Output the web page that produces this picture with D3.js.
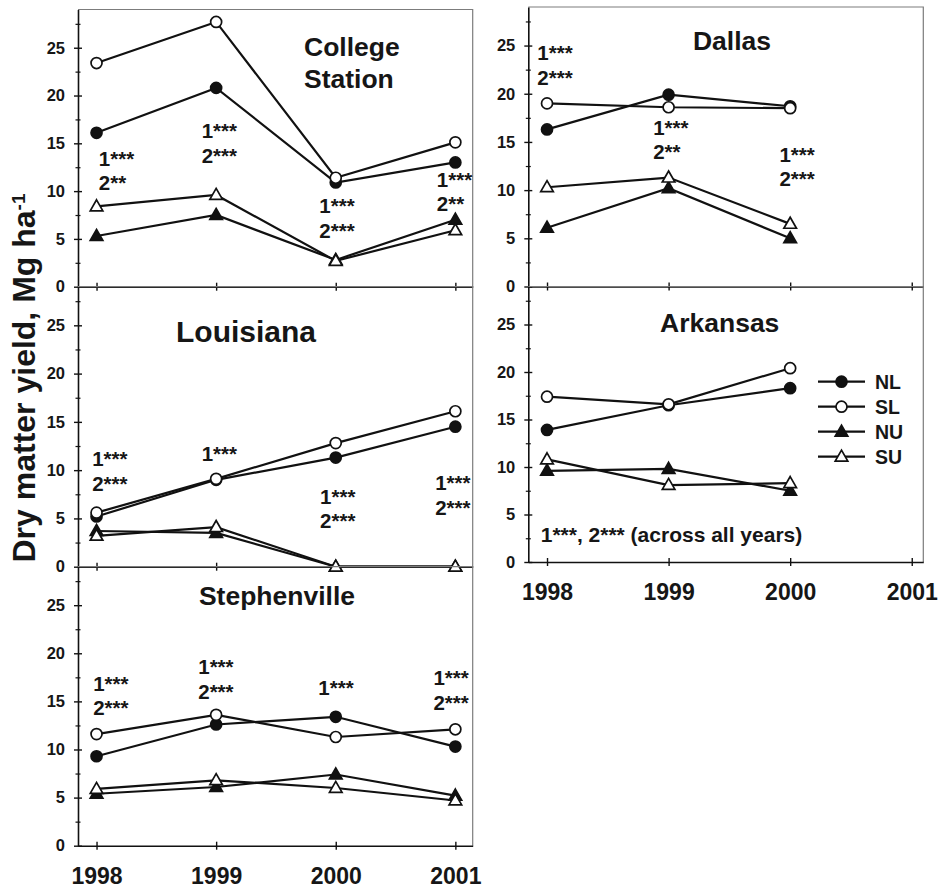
<!DOCTYPE html>
<html>
<head>
<meta charset="utf-8">
<script src="https://cdn.jsdelivr.net/npm/d3@7"></script>
<style>
  body { margin: 0; background: #fff; }
  svg text { font-family: "Liberation Sans", Arial, Helvetica, sans-serif; font-weight: bold; fill: #161616; }
</style>
</head>
<body>
<svg id="chart" width="938" height="890"></svg>
<script>
// ---- data ----
const years = [1998, 1999, 2000, 2001];
const seriesNames = ["NL", "SL", "NU", "SU"];

// rows follow seriesNames: NL, SL, NU, SU  (Mg ha-1)
const collegeStation = [
  [16.1, 20.8, 10.9, 13.0],
  [23.4, 27.7, 11.4, 15.1],
  [5.3, 7.5, 2.8, 7.0],
  [8.4, 9.6, 2.7, 5.9]
];
const dallas = [
  [16.3, 19.9, 18.7],
  [19.0, 18.6, 18.5],
  [6.1, 10.2, 5.0],
  [10.3, 11.3, 6.5]
];
const louisiana = [
  [5.2, 9.0, 11.3, 14.5],
  [5.6, 9.1, 12.8, 16.1],
  [3.7, 3.5, 0, 0],
  [3.2, 4.1, 0, 0]
];
const arkansas = [
  [13.9, 16.5, 18.3],
  [17.4, 16.6, 20.4],
  [9.6, 9.8, 7.5],
  [10.8, 8.1, 8.3]
];
const stephenville = [
  [9.3, 12.6, 13.4, 10.3],
  [11.6, 13.6, 11.3, 12.1],
  [5.4, 6.1, 7.4, 5.2],
  [5.9, 6.8, 6.0, 4.7]
];

// significance notes, one entry per year
const csNotes = [["1***", "2**"], ["1***", "2***"], ["1***", "2***"], ["1***", "2**"]];
const dallasNotes = [["1***", "2***"], ["1***", "2**"], ["1***", "2***"]];
const louisianaNotes = [["1***", "2***"], ["1***"], ["1***", "2***"], ["1***", "2***"]];
const arkansasNotes = [["1***, 2*** (across all years)"]];
const stephenvilleNotes = [["1***", "2***"], ["1***", "2***"], ["1***"], ["1***", "2***"]];

const yMajor = [0, 5, 10, 15, 20, 25];
const yMinor = [2.5, 7.5, 12.5, 17.5, 22.5, 27.5];

// ---- layout ----
const LEFT = { x0: 78, x1: 472.7, dom: [1997.845, 2001.145] };
const RIGHT = { x0: 528.3, x1: 923.3, dom: [1997.846, 2001.095] };

const panels = [
  { data: collegeStation, notes: csNotes, col: LEFT, top: 9.5, bottom: 286.7,
    title: ["College", "Station"], tx: 304, ty: 56, tsize: 26.5, tanchor: "start",
    noteAt: [12.66, 15.52, 7.68, 10.46], noteDx: [2.3, -14.5, -16.4, -18.5], noteSize: 20.5, years: false },
  { data: louisiana, notes: louisianaNotes, col: LEFT, top: 286.7, bottom: 566.7,
    title: ["Louisiana"], tx: 176, ty: 341.7, tsize: 30, tanchor: "start",
    noteAt: [10.4, 10.9, 6.5, 7.9], noteDx: [-4.4, -14.5, -15.7, -20.2], noteSize: 20.5, years: false },
  { data: stephenville, notes: stephenvilleNotes, col: LEFT, top: 566.7, bottom: 845.7,
    title: ["Stephenville"], tx: 277, ty: 605, tsize: 26.5, tanchor: "middle",
    noteAt: [16.1, 17.8, 15.7, 16.7], noteDx: [-3.4, -17.9, -17.4, -21.9], noteSize: 20.5, years: true },
  { data: dallas, notes: dallasNotes, col: RIGHT, top: 7, bottom: 286.5,
    title: ["Dallas"], tx: 732, ty: 50, tsize: 26.5, tanchor: "middle",
    noteAt: [23.5, 15.72, 12.95], noteDx: [-9.7, -15.4, -10.7], noteSize: 20.5, years: false },
  { data: arkansas, notes: arkansasNotes, col: RIGHT, top: 286.5, bottom: 562,
    title: ["Arkansas"], tx: 719.7, ty: 331.7, tsize: 26.5, tanchor: "middle",
    noteAt: [2.1], noteDx: [-6.3], noteSize: 21, years: true, legend: true }
];

const svg = d3.select("#chart");

const triangle = "M0,-6.6L6.3,4.4L-6.3,4.4Z";
const drawMarker = (sel, name) => {
  if (name === "NL" || name === "SL") {
    sel.append("circle").attr("r", 5.5)
      .attr("fill", name === "NL" ? "#111" : "#fff")
      .attr("stroke", "#111").attr("stroke-width", 1.7);
  } else {
    sel.append("path").attr("d", triangle)
      .attr("fill", name === "NU" ? "#111" : "#fff")
      .attr("stroke", "#111").attr("stroke-width", 1.7).attr("stroke-linejoin", "miter");
  }
};

panels.forEach(p => {
  const x = d3.scaleLinear().domain(p.col.dom).range([p.col.x0, p.col.x1]);
  const y = d3.scaleLinear().domain([0, 29]).range([p.bottom, p.top]);
  const g = svg.append("g");

  // thin grey frame on top and right
  g.append("path")
    .attr("d", `M${p.col.x0},${p.top}H${p.col.x1}V${p.bottom}`)
    .attr("fill", "none").attr("stroke", "#7c7c7c").attr("stroke-width", 1.2);

  // y axis
  const ya = g.append("g").attr("transform", `translate(${p.col.x0},0)`)
    .call(d3.axisLeft(y).tickValues(yMajor).tickSizeInner(4).tickSizeOuter(0).tickPadding(9));
  ya.attr("font-family", null).attr("font-size", null);
  ya.select(".domain").attr("stroke", "#111").attr("stroke-width", 1.6);
  ya.selectAll(".tick line").attr("x1", 4).attr("stroke", "#111").attr("stroke-width", 1.4);
  ya.selectAll(".tick text").style("font-size", "16.5px").attr("fill", "#161616");

  const ym = g.append("g").attr("transform", `translate(${p.col.x0},0)`)
    .call(d3.axisLeft(y).tickValues(yMinor).tickSize(2.5).tickFormat(""));
  ym.select(".domain").remove();
  ym.selectAll(".tick line").attr("x1", 2.5).attr("stroke", "#111").attr("stroke-width", 1.2);

  // x axis
  const xa = g.append("g").attr("transform", `translate(0,${p.bottom})`)
    .call(d3.axisBottom(x).tickValues(years).tickSizeInner(4).tickSizeOuter(0)
      .tickFormat(p.years ? d3.format("d") : () => ""));
  xa.attr("font-family", null).attr("font-size", null);
  xa.select(".domain").attr("stroke", "#111").attr("stroke-width", 1.6);
  xa.selectAll(".tick line").attr("y1", -4).attr("stroke", "#111").attr("stroke-width", 1.4);
  xa.selectAll(".tick text").attr("y", 38).attr("dy", 0).style("font-size", "23px").attr("fill", "#161616");

  // title
  const t = g.append("text").attr("x", p.tx).attr("y", p.ty)
    .attr("text-anchor", p.tanchor).style("font-size", p.tsize + "px");
  p.title.forEach((s, i) => t.append("tspan").attr("x", p.tx).attr("dy", i ? 31.5 : 0).text(s));

  // series
  const line = d3.line().x((d, i) => x(years[i])).y(d => y(d));
  seriesNames.forEach((name, k) => {
    g.append("path").datum(p.data[k]).attr("d", line)
      .attr("fill", "none").attr("stroke", "#111").attr("stroke-width", 2.2);
    g.selectAll(null).data(p.data[k]).join("g")
      .attr("transform", (d, i) => `translate(${x(years[i])},${y(d)})`)
      .each(function () { drawMarker(d3.select(this), name); });
  });

  // significance notes
  p.notes.forEach((lines, i) => {
    const nx = x(years[i]) + p.noteDx[i];
    const nt = g.append("text").attr("x", nx).attr("y", y(p.noteAt[i])).style("font-size", p.noteSize + "px");
    lines.forEach((s, j) => nt.append("tspan").attr("x", nx).attr("dy", j ? 24.5 : 0).text(s));
  });

  // legend
  if (p.legend) {
    const lg = g.append("g").attr("transform", "translate(818,381.7)");
    seriesNames.forEach((name, k) => {
      const row = lg.append("g").attr("transform", `translate(0,${k * 25})`);
      row.append("line").attr("x1", 0).attr("x2", 47).attr("stroke", "#111").attr("stroke-width", 2.2);
      drawMarker(row.append("g").attr("transform", "translate(23.5,0)"), name);
      row.append("text").attr("x", 57).attr("dy", "0.36em").style("font-size", "19.5px").text(name);
    });
  }
});

// y-axis title
const yt = svg.append("text")
  .attr("transform", "translate(23,378) rotate(-90)")
  .attr("text-anchor", "middle").attr("dy", "0.36em")
  .style("font-size", "32px");
yt.append("tspan").text("Dry matter yield, Mg ha");
yt.append("tspan").attr("dy", "-0.5em").style("font-size", "19px").text("-1");
</script>
</body>
</html>
